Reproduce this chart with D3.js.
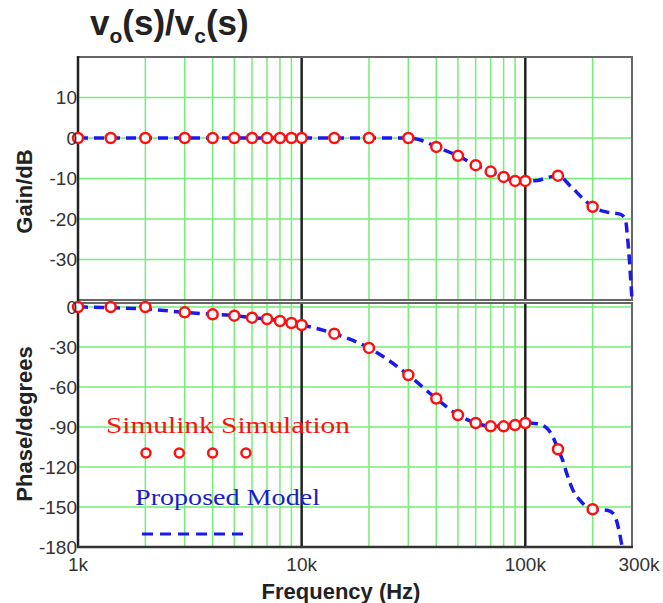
<!DOCTYPE html>
<html>
<head>
<meta charset="utf-8">
<script src="https://cdn.jsdelivr.net/npm/d3@7"></script>
<style>
  body { margin: 0; background: #fff; }
  svg { display: block; font-family: Arial, "Liberation Sans", sans-serif; }
</style>
</head>
<body>
<div id="bode"></div>
<script>
// measured points (Simulink) - same freqs used for gain and phase
const simFreq = [1000, 1400, 2000, 3000, 4000, 5000, 6000, 7000, 8000, 9000, 10000,
    14000, 20000, 30000, 40000, 50000, 60000, 70000, 80000, 90000, 100000, 140000, 200000];
const simGain = [0, 0, 0, 0, 0, 0, 0, 0, 0, 0, 0,
    0, 0, 0, -2.2, -4.4, -6.7, -8.3, -9.6, -10.6, -10.6, -9.3, -17];
const simPhase = [0, 0, 0, -4, -5.5, -6.5, -8, -9, -10.5, -12, -13.5,
    -20, -30.7, -51, -68.7, -81, -87, -89.5, -89.5, -88.5, -87, -106.7, -151.7];

// proposed model curve (dashed blue)
const modelGainFreq = [1000, 3000, 10000, 20000, 30000, 34000, 40000, 50000, 60000, 70000, 80000,
    90000, 100000, 113000, 125000, 140000, 160000, 180000, 200000, 232000, 265000, 280000,
    287000, 292000, 296000, 300000];
const modelGain = [0, 0, 0, 0, 0, -0.5, -2.2, -4.4, -6.7, -8.3, -9.6,
    -10.6, -10.6, -10.5, -9.8, -9.3, -12, -14.8, -17, -18.3, -18.8, -20,
    -25, -30, -35, -40];
const modelPhaseFreq = [1000, 1400, 2000, 3000, 4000, 5000, 6000, 7000, 8000, 9000, 10000,
    14000, 20000, 30000, 40000, 50000, 60000, 70000, 80000, 90000, 100000, 113000, 125000,
    133000, 140000, 147000, 153000, 163000, 175000, 200000, 232000, 248000, 262000, 271000];
const modelPhase = [0, -0.5, -1.5, -4, -5.5, -6.5, -8, -9, -10.5, -12, -13.5,
    -20, -30.7, -51, -68.7, -81, -87, -89.5, -89.5, -88.5, -87, -87.5, -91,
    -97.5, -106.7, -115, -124.5, -137, -144.7, -151.7, -152.5, -155, -167, -180];

// axis stuff
const freqTicks = [1000, 10000, 100000, 300000];
const freqTickLabels = ["1k", "10k", "100k", "300k"];
const decadeLines = [10000, 100000];
const minorFreqs = [2000, 3000, 4000, 5000, 6000, 7000, 8000, 9000,
    20000, 30000, 40000, 50000, 60000, 70000, 80000, 90000, 200000];
const gainTicks = [10, 0, -10, -20, -30];
const phaseTicks = [0, -30, -60, -90, -120, -150, -180];
const phaseGrid = [0, -30, -60, -90, -120, -150];

let svgWidth = 663;
let svgHeight = 603;
let left = 78, right = 632;
let gainTop = 57, gainBottom = 300;
let phaseTop = 303, phaseBottom = 547;

const green = "#74ee74";
const red = "#ff1010";
const blue = "#1a1af0";

let svg = d3.select("#bode")
    .append("svg")
    .attr("width", svgWidth)
    .attr("height", svgHeight);

let x = d3.scaleLog().domain([1000, 300000]).range([left, right]);
let yGain = d3.scaleLinear().domain([-40, 20]).range([gainBottom, gainTop]);
let yPhase = d3.scaleLinear().domain([-180, 3]).range([phaseBottom, phaseTop]);

// draws one panel: grid, frame, curve, markers
function panel(y, top, bottom, gridVals, mFreq, mVals, sVals) {
    let g = svg.append("g");

    g.selectAll(".hgrid")
        .data(gridVals)
        .enter()
        .append("line")
        .attr("x1", left).attr("x2", right)
        .attr("y1", d => y(d)).attr("y2", d => y(d))
        .attr("stroke", green)
        .attr("stroke-width", 1.5);

    g.selectAll(".vgrid")
        .data(minorFreqs)
        .enter()
        .append("line")
        .attr("x1", d => x(d)).attr("x2", d => x(d))
        .attr("y1", top).attr("y2", bottom)
        .attr("stroke", green)
        .attr("stroke-width", 1.5);

    g.selectAll(".decade")
        .data(decadeLines)
        .enter()
        .append("line")
        .attr("x1", d => x(d)).attr("x2", d => x(d))
        .attr("y1", top).attr("y2", bottom)
        .attr("stroke", "#222")
        .attr("stroke-width", 2.5);

    g.append("rect")
        .attr("x", left).attr("y", top)
        .attr("width", right - left).attr("height", bottom - top)
        .attr("fill", "none")
        .attr("stroke", "#666")
        .attr("stroke-width", 2);

    // left edge is darker
    g.append("line")
        .attr("x1", left).attr("x2", left)
        .attr("y1", top - 1).attr("y2", bottom + 1)
        .attr("stroke", "#222")
        .attr("stroke-width", 2.5);

    let line = d3.line()
        .x((d, i) => x(mFreq[i]))
        .y(d => y(d))
        .curve(d3.curveMonotoneX);

    g.append("path")
        .datum(mVals)
        .attr("d", line)
        .attr("fill", "none")
        .attr("stroke", blue)
        .attr("stroke-width", 3.5)
        .attr("stroke-dasharray", "10,6");

    g.selectAll("circle")
        .data(sVals)
        .enter()
        .append("circle")
        .attr("cx", (d, i) => x(simFreq[i]))
        .attr("cy", d => y(d))
        .attr("r", 5)
        .attr("fill", "#fff")
        .attr("stroke", red)
        .attr("stroke-width", 2.5);

    return g;
}

panel(yGain, gainTop, gainBottom, gainTicks, modelGainFreq, modelGain, simGain);
panel(yPhase, phaseTop, phaseBottom, phaseGrid, modelPhaseFreq, modelPhase, simPhase);

// bottom edge of lower panel is dark too
svg.append("line")
    .attr("x1", left - 1).attr("x2", right + 1)
    .attr("y1", phaseBottom).attr("y2", phaseBottom)
    .attr("stroke", "#333")
    .attr("stroke-width", 2.5);

// y tick labels
svg.selectAll(".gtick")
    .data(gainTicks)
    .enter()
    .append("text")
    .attr("x", left - 1)
    .attr("y", d => yGain(d))
    .attr("dy", "0.36em")
    .attr("text-anchor", "end")
    .attr("fill", "#333")
    .style("font-size", "19px")
    .text(d => d);

svg.selectAll(".ptick")
    .data(phaseTicks)
    .enter()
    .append("text")
    .attr("x", left - 1)
    .attr("y", d => yPhase(d))
    .attr("dy", "0.36em")
    .attr("text-anchor", "end")
    .attr("fill", "#333")
    .style("font-size", "19px")
    .text(d => d);

// x tick labels, last one is nudged right like in the original
svg.selectAll(".xtick")
    .data(freqTicks)
    .enter()
    .append("text")
    .attr("x", (d, i) => x(d) + (i === freqTicks.length - 1 ? 7 : 0))
    .attr("y", 571)
    .attr("text-anchor", "middle")
    .attr("fill", "#333")
    .style("font-size", "19px")
    .text((d, i) => freqTickLabels[i]);

// axis titles
svg.append("text")
    .attr("transform", `translate(32, ${(gainTop + gainBottom) / 2 + 13}) rotate(-90)`)
    .attr("text-anchor", "middle")
    .attr("fill", "#222")
    .style("font-size", "22px")
    .style("font-weight", "bold")
    .text("Gain/dB");

svg.append("text")
    .attr("transform", `translate(32, 424) rotate(-90)`)
    .attr("text-anchor", "middle")
    .attr("fill", "#222")
    .style("font-size", "22px")
    .style("font-weight", "bold")
    .text("Phase/degrees");

svg.append("text")
    .attr("x", 341)
    .attr("y", 599)
    .attr("text-anchor", "middle")
    .attr("fill", "#222")
    .style("font-size", "22px")
    .style("font-weight", "bold")
    .text("Frequency (Hz)");

// title v_o(s)/v_c(s)
let title = svg.append("text")
    .attr("x", 90)
    .attr("y", 35)
    .attr("fill", "#222")
    .style("font-size", "35px")
    .style("font-weight", "bold");
title.append("tspan").text("v");
title.append("tspan").attr("dy", 8).style("font-size", "21px").text("o");
title.append("tspan").attr("dy", -8).text("(s)/v");
title.append("tspan").attr("dy", 8).style("font-size", "21px").text("c");
title.append("tspan").attr("dy", -8).text("(s)");

// legend (sits inside the phase panel)
svg.append("text")
    .attr("x", 106)
    .attr("y", 433)
    .attr("fill", red)
    .attr("textLength", 244)
    .attr("lengthAdjust", "spacingAndGlyphs")
    .style("font-family", "'Liberation Serif', 'Times New Roman', serif")
    .style("font-size", "23px")
    .text("Simulink Simulation");

svg.selectAll(".legdot")
    .data([0, 1, 2, 3])
    .enter()
    .append("circle")
    .attr("cx", d => 146 + d * 33.3)
    .attr("cy", 453)
    .attr("r", 4.5)
    .attr("fill", "#fff")
    .attr("stroke", red)
    .attr("stroke-width", 2.5);

svg.append("text")
    .attr("x", 135)
    .attr("y", 505)
    .attr("fill", "#1c1cc8")
    .attr("textLength", 185)
    .attr("lengthAdjust", "spacingAndGlyphs")
    .style("font-family", "'Liberation Serif', 'Times New Roman', serif")
    .style("font-size", "23px")
    .text("Proposed Model");

svg.append("line")
    .attr("x1", 142).attr("x2", 250)
    .attr("y1", 534).attr("y2", 534)
    .attr("stroke", blue)
    .attr("stroke-width", 3)
    .attr("stroke-dasharray", "11,7");
</script>
</body>
</html>
